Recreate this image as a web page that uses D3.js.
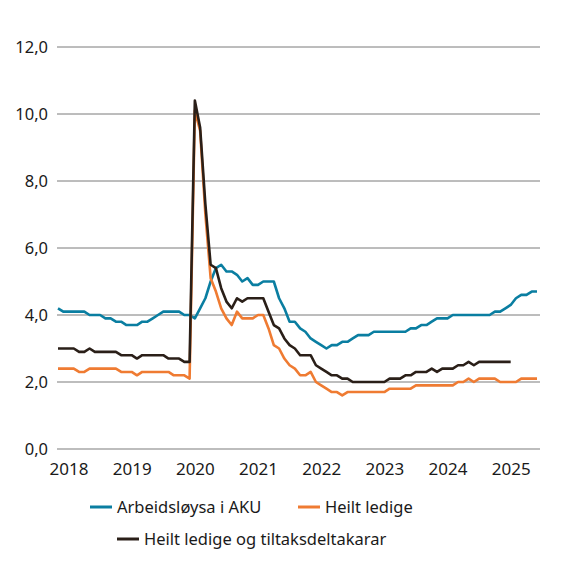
<!DOCTYPE html>
<html>
<head>
<meta charset="utf-8">
<script src="https://cdn.jsdelivr.net/npm/d3@7"></script>
<style>
  html, body { margin: 0; padding: 0; background: #fff; }
  svg { display: block; font-family: "Noto Sans", "Open Sans", sans-serif; }
</style>
</head>
<body>
<svg id="chart" width="575" height="568"></svg>
<script>
// Monthly series, starting January 2018
const startYear = 2018;
const years = [2018, 2019, 2020, 2021, 2022, 2023, 2024, 2025];
const yTicks = [0, 2, 4, 6, 8, 10, 12];

const seriesNames = ["Arbeidsløysa i AKU", "Heilt ledige", "Heilt ledige og tiltaksdeltakarar"];
const seriesColors = ["#0a7ea1", "#ef7b32", "#2a1f18"];

const aku = [
  4.2, 4.1, 4.1, 4.1, 4.1, 4.1, 4.0, 4.0, 4.0, 3.9, 3.9, 3.8,
  3.8, 3.7, 3.7, 3.7, 3.8, 3.8, 3.9, 4.0, 4.1, 4.1, 4.1, 4.1,
  4.0, 4.0, 3.9, 4.2, 4.5, 5.0, 5.4, 5.5, 5.3, 5.3, 5.2, 5.0,
  5.1, 4.9, 4.9, 5.0, 5.0, 5.0, 4.5, 4.2, 3.8, 3.8, 3.6, 3.5,
  3.3, 3.2, 3.1, 3.0, 3.1, 3.1, 3.2, 3.2, 3.3, 3.4, 3.4, 3.4,
  3.5, 3.5, 3.5, 3.5, 3.5, 3.5, 3.5, 3.6, 3.6, 3.7, 3.7, 3.8,
  3.9, 3.9, 3.9, 4.0, 4.0, 4.0, 4.0, 4.0, 4.0, 4.0, 4.0, 4.1,
  4.1, 4.2, 4.3, 4.5, 4.6, 4.6, 4.7, 4.7
];
const heiltLedige = [
  2.4, 2.4, 2.4, 2.4, 2.3, 2.3, 2.4, 2.4, 2.4, 2.4, 2.4, 2.4,
  2.3, 2.3, 2.3, 2.2, 2.3, 2.3, 2.3, 2.3, 2.3, 2.3, 2.2, 2.2,
  2.2, 2.1, 10.1, 9.5, 7.0, 5.1, 4.7, 4.2, 3.9, 3.7, 4.1, 3.9,
  3.9, 3.9, 4.0, 4.0, 3.6, 3.1, 3.0, 2.7, 2.5, 2.4, 2.2, 2.2,
  2.3, 2.0, 1.9, 1.8, 1.7, 1.7, 1.6, 1.7, 1.7, 1.7, 1.7, 1.7,
  1.7, 1.7, 1.7, 1.8, 1.8, 1.8, 1.8, 1.8, 1.9, 1.9, 1.9, 1.9,
  1.9, 1.9, 1.9, 1.9, 2.0, 2.0, 2.1, 2.0, 2.1, 2.1, 2.1, 2.1,
  2.0, 2.0, 2.0, 2.0, 2.1, 2.1, 2.1, 2.1
];
const heiltLedigeTiltak = [
  3.0, 3.0, 3.0, 3.0, 2.9, 2.9, 3.0, 2.9, 2.9, 2.9, 2.9, 2.9,
  2.8, 2.8, 2.8, 2.7, 2.8, 2.8, 2.8, 2.8, 2.8, 2.7, 2.7, 2.7,
  2.6, 2.6, 10.4, 9.6, 7.3, 5.5, 5.4, 4.8, 4.4, 4.2, 4.5, 4.4,
  4.5, 4.5, 4.5, 4.5, 4.1, 3.7, 3.6, 3.3, 3.1, 3.0, 2.8, 2.8,
  2.8, 2.5, 2.4, 2.3, 2.2, 2.2, 2.1, 2.1, 2.0, 2.0, 2.0, 2.0,
  2.0, 2.0, 2.0, 2.1, 2.1, 2.1, 2.2, 2.2, 2.3, 2.3, 2.3, 2.4,
  2.3, 2.4, 2.4, 2.4, 2.5, 2.5, 2.6, 2.5, 2.6, 2.6, 2.6, 2.6,
  2.6, 2.6, 2.6
];

const svg = d3.select("#chart");
const x = d3.scaleLinear().domain([0, 91]).range([58, 537]);
const y = d3.scaleLinear().domain([0, 12]).range([449, 47]);
const fmt = v => d3.format(".1f")(v).replace(".", ",");

// Gridlines
const grid = svg.append("g");
grid.selectAll("line").data(yTicks).join("line")
  .attr("x1", 57).attr("x2", 540)
  .attr("y1", d => y(d)).attr("y2", d => y(d))
  .attr("stroke", d => d <= 2 ? "#bdbdbd" : "#7a7a7a")
  .attr("stroke-width", d => d <= 2 ? 2 : 1);

// Y labels
svg.append("g").selectAll("text").data(yTicks).join("text")
  .attr("x", 48).attr("y", d => y(d))
  .attr("dy", "0.36em")
  .attr("text-anchor", "end")
  .attr("font-size", 16.5).attr("fill", "#1a1a1a")
  .text(fmt);

// X labels
svg.append("g").selectAll("text").data(years).join("text")
  .attr("x", d => x((d - startYear) * 12 + 2.1))
  .attr("y", 475)
  .attr("text-anchor", "middle")
  .attr("font-size", 17).attr("fill", "#1a1a1a")
  .text(d => d);

// Lines
const line = d3.line().x((d, i) => x(i)).y(d => y(d));
const allSeries = [aku, heiltLedige, heiltLedigeTiltak];
svg.append("g").selectAll("path").data(allSeries).join("path")
  .attr("d", line)
  .attr("fill", "none")
  .attr("stroke", (d, i) => seriesColors[i])
  .attr("stroke-width", 2.6)
  .attr("stroke-linejoin", "round");

// Legend
const legendPos = [
  { lx: 90, ly: 507, tx: 117, ty: 513 },
  { lx: 298, ly: 507, tx: 325, ty: 513 },
  { lx: 117, ly: 539, tx: 144, ty: 545 }
];
const lg = svg.append("g").selectAll("g").data(seriesNames).join("g");
lg.append("line")
  .attr("x1", (d, i) => legendPos[i].lx).attr("x2", (d, i) => legendPos[i].lx + 22)
  .attr("y1", (d, i) => legendPos[i].ly).attr("y2", (d, i) => legendPos[i].ly)
  .attr("stroke", (d, i) => seriesColors[i]).attr("stroke-width", 3);
lg.append("text")
  .attr("x", (d, i) => legendPos[i].tx).attr("y", (d, i) => legendPos[i].ty)
  .attr("font-size", 16.5).attr("fill", "#1a1a1a")
  .text(d => d);
</script>
</body>
</html>
